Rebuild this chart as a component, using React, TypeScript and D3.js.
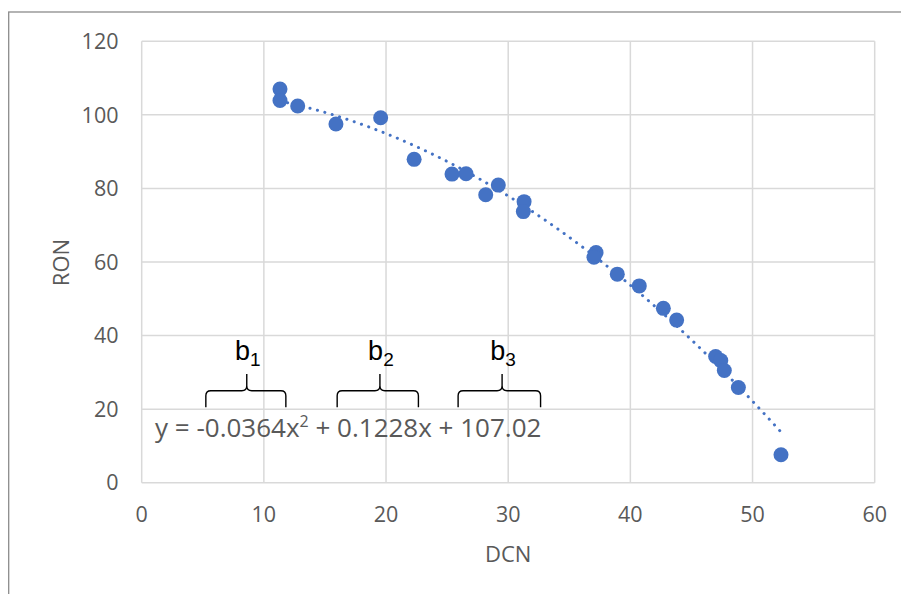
import React from "react";
import * as d3 from "d3";

// ---- data ----
const dcn = [11.32, 11.32, 12.77, 15.9, 19.56, 22.3, 25.4, 26.55, 28.16, 29.19, 31.3, 31.24, 37.19, 37.02, 38.93, 40.73, 42.7, 43.79, 46.98, 47.4, 47.69, 48.84, 52.33];
const ron = [107.0, 103.9, 102.4, 97.5, 99.2, 87.9, 83.9, 84.0, 78.3, 80.9, 76.4, 73.7, 62.6, 61.3, 56.7, 53.5, 47.4, 44.2, 34.3, 33.2, 30.5, 25.9, 7.6];
const xTicks = [0, 10, 20, 30, 40, 50, 60];
const yTicks = [0, 20, 40, 60, 80, 100, 120];
const trendCoef = [-0.0364, 0.1228, 107.02]; // a, b, c
const braceLabels = ["1", "2", "3"];
const braceStart = [5.25, 16.0, 25.9];
const braceEnd = [11.8, 22.65, 32.65];
const braceTip = [8.6, 19.5, 29.5];

const W = 901;
const H = 594;
const BLUE = "#4472C4";
const GRID = "#d9d9d9";
const TXT = "#595959";
const FONT = "'Open Sans', sans-serif";

export default function App() {
  const x = d3.scaleLinear().domain([0, 60]).range([141.7, 874.7]);
  const y = d3.scaleLinear().domain([0, 120]).range([482.7, 41.3]);

  const [a, b, c] = trendCoef;
  const xmin = d3.min(dcn) as number;
  const xmax = d3.max(dcn) as number;
  const trendX = d3.range(xmin, xmax, (xmax - xmin) / 200).concat([xmax]);
  const trendPath = d3
    .line<number>()
    .x((v) => x(v))
    .y((v) => y(a * v * v + b * v + c))(trendX) as string;

  const brace = (x1: number, x2: number, xm: number) => {
    const px1 = x(x1), px2 = x(x2), pm = x(xm);
    const yb = 407.3, yh = 390.7, yt = 374;
    const r = 5;
    return [
      `M${px1},${yb}`,
      `L${px1},${yh + r}`,
      `Q${px1},${yh} ${px1 + r},${yh}`,
      `L${pm - r},${yh}`,
      `Q${pm},${yh} ${pm},${yh - r}`,
      `L${pm},${yt}`,
      `M${pm},${yh - r}`,
      `Q${pm},${yh} ${pm + r},${yh}`,
      `L${px2 - r},${yh}`,
      `Q${px2},${yh} ${px2},${yh + r}`,
      `L${px2},${yb}`,
    ].join(" ");
  };

  return (
    <svg
      width={W}
      height={H}
      style={{ position: "absolute", left: 0, top: 0, background: "#fff" }}
    >
      <rect x={0} y={0} width={W} height={H} fill="#fff" />
      {/* outer chart border */}
      <rect x={8.7} y={12} width={W + 20} height={H + 20} fill="none" stroke="#8c8c8c" strokeWidth={1.3} />

      {/* gridlines */}
      {xTicks.map((t) => (
        <line key={"gx" + t} x1={x(t)} x2={x(t)} y1={y(0)} y2={y(120)} stroke={GRID} strokeWidth={1.5} />
      ))}
      {yTicks.map((t) => (
        <line key={"gy" + t} x1={x(0)} x2={x(60)} y1={y(t)} y2={y(t)} stroke={GRID} strokeWidth={1.5} />
      ))}

      {/* tick labels */}
      {yTicks.map((t) => (
        <text key={"ty" + t} x={118.5} y={y(t)} dy="0.36em" textAnchor="end" fontFamily={FONT} fontSize={21.5} fill={TXT}>
          {t}
        </text>
      ))}
      {xTicks.map((t) => (
        <text key={"tx" + t} x={x(t)} y={514.5} dy="0.36em" textAnchor="middle" fontFamily={FONT} fontSize={21.5} fill={TXT}>
          {t}
        </text>
      ))}

      {/* axis titles */}
      <text x={508.2} y={554} dy="0.36em" textAnchor="middle" fontFamily={FONT} fontSize={22} fill={TXT}>
        DCN
      </text>
      <text
        transform={`translate(61.5,262.5) rotate(-90)`}
        dy="0.36em"
        textAnchor="middle"
        fontFamily={FONT}
        fontSize={22}
        fill={TXT}
      >
        RON
      </text>

      {/* trendline */}
      <path d={trendPath} fill="none" stroke={BLUE} strokeWidth={3} strokeDasharray="0.1 7.6" strokeLinecap="round" />

      {/* points */}
      {dcn.map((v, i) => (
        <circle key={"p" + i} cx={x(v)} cy={y(ron[i])} r={7.5} fill={BLUE} />
      ))}

      {/* equation */}
      <text x={155} y={436.5} fontFamily={FONT} fontSize={26} fill={TXT}>
        y = -0.0364x
        <tspan fontSize={16} dy={-10}>2</tspan>
        <tspan dy={10}> + 0.1228x + 107.02</tspan>
      </text>

      {/* braces */}
      {braceLabels.map((lab, i) => (
        <g key={"b" + i}>
          <path d={brace(braceStart[i], braceEnd[i], braceTip[i])} fill="none" stroke="#000" strokeWidth={1.4} />
          <text x={x(braceTip[i]) + 1} y={359.5} textAnchor="middle" fontFamily="'Liberation Sans', Arial, sans-serif" fontSize={27} fill="#000">
            b<tspan fontSize={19} dy={6}>{lab}</tspan>
          </text>
        </g>
      ))}
    </svg>
  );
}
